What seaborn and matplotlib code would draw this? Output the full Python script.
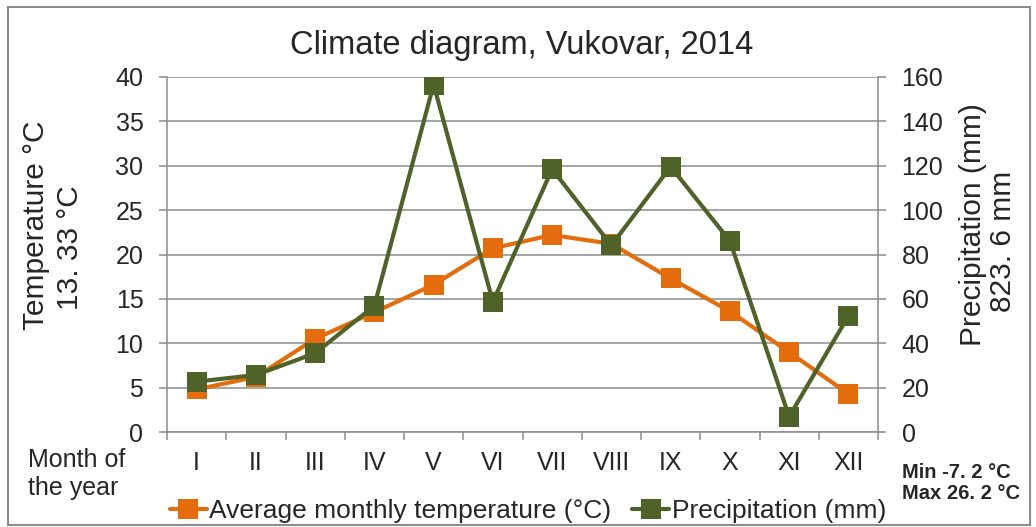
import numpy as np
import pandas as pd
import matplotlib
matplotlib.use("Agg")
import matplotlib.pyplot as plt
from matplotlib.lines import Line2D
from matplotlib.patches import Rectangle
import seaborn as sns

# Monthly climate data, Vukovar 2014
months = ["I", "II", "III", "IV", "V", "VI", "VII", "VIII", "IX", "X", "XI", "XII"]
temperature = [4.8, 6.2, 10.5, 13.5, 16.6, 20.7, 22.2, 21.2, 17.3, 13.6, 9.0, 4.3]
precipitation = [22.7, 25.7, 35.5, 56.9, 156.6, 58.7, 118.5, 84.1, 119.6, 86.1, 6.9, 52.3]
temp_ticks = [0, 5, 10, 15, 20, 25, 30, 35, 40]
prec_ticks = [0, 20, 40, 60, 80, 100, 120, 140, 160]

ORANGE = "#E46C0A"
GREEN = "#4F6228"
GRID = "#8C8C8C"

sns.set_theme(style="white")
plt.rcParams["font.family"] = ["Liberation Sans", "DejaVu Sans"]

df = pd.DataFrame({"pos": np.arange(len(months)), "month": months,
                   "temp": temperature, "prec": precipitation})

W, H = 1036, 527
fig = plt.figure(figsize=(W / 100, H / 100), dpi=100)
ax = fig.add_axes([167 / W, 1 - 432 / H, (878 - 167) / W, (432 - 77) / H])
ax2 = ax.twinx()

line_kw = dict(marker="s", markersize=14, linewidth=3.0, markeredgewidth=0)
sns.lineplot(data=df, x="pos", y="temp", ax=ax, color=ORANGE,
             markeredgecolor=ORANGE, **line_kw)
sns.lineplot(data=df, x="pos", y="prec", ax=ax2, color=GREEN,
             markeredgecolor=GREEN, **line_kw)

# Axes ranges and ticks
ax.set_xlim(-0.5, len(months) - 0.5)
ax.set_ylim(temp_ticks[0], temp_ticks[-1])
ax2.set_ylim(prec_ticks[0], prec_ticks[-1])
ax.set_yticks(temp_ticks)
ax2.set_yticks(prec_ticks)
ax.set_xticks(df["pos"])
ax.set_xticklabels(months)
ax.set_xticks(np.arange(-0.5, len(months)), minor=True)

ax.yaxis.grid(True, color=GRID, linewidth=1.1)
ax.set_axisbelow(True)

for a in (ax, ax2):
    a.set_xlabel("")
    a.set_ylabel("")
    for side in ("left", "right", "bottom", "top"):
        a.spines[side].set_color(GRID)
        a.spines[side].set_linewidth(1.1)
    a.spines["top"].set_visible(False)
ax.spines["right"].set_visible(False)
ax2.spines["left"].set_visible(False)
ax2.spines["bottom"].set_visible(False)

tick_fs = 18
label_fs = 21.5
ax.tick_params(axis="y", which="major", direction="out", length=6, width=1.1,
               color=GRID, pad=11, labelsize=tick_fs, left=True)
ax2.tick_params(axis="y", which="major", direction="out", length=6, width=1.1,
                color=GRID, pad=11, labelsize=tick_fs, right=True)
ax.tick_params(axis="x", which="major", length=0, pad=14, labelsize=tick_fs)
ax.tick_params(axis="x", which="minor", direction="out", length=6, width=1.1,
               color=GRID, bottom=True)

# Titles and axis captions
fig.text(522 / W, 1 - 45 / H, "Climate diagram, Vukovar, 2014",
         ha="center", va="center", fontsize=23.5)
fig.text(36 / W, 1 - 225 / H, "Temperature °C", rotation=90,
         ha="center", va="center", fontsize=label_fs)
fig.text(70 / W, 1 - 248 / H, "13. 33 °C", rotation=90,
         ha="center", va="center", fontsize=label_fs)
fig.text(973 / W, 1 - 225 / H, "Precipitation (mm)", rotation=90,
         ha="center", va="center", fontsize=label_fs)
fig.text(1003 / W, 1 - 241 / H, "823. 6 mm", rotation=90,
         ha="center", va="center", fontsize=label_fs)
fig.text(28 / W, 1 - 474 / H, "Month of\nthe year", ha="left", va="center",
         fontsize=tick_fs, linespacing=1.2)
fig.text(902 / W, 1 - 483 / H, "Min -7. 2 °C\nMax 26. 2 °C", ha="left",
         va="center", fontsize=14.5, fontweight="bold", linespacing=1.15)

# Legend below the plot
handles = [
    Line2D([], [], color=ORANGE, marker="s", markersize=14, linewidth=3.0,
           markeredgewidth=0),
    Line2D([], [], color=GREEN, marker="s", markersize=14, linewidth=3.0,
           markeredgewidth=0),
]
fig.legend(handles, ["Average monthly temperature (°C)", "Precipitation (mm)"],
           loc="center", bbox_to_anchor=(528 / W, 1 - 511 / H), ncol=2,
           frameon=False, fontsize=19, handlelength=1.4,
           handletextpad=0.1, columnspacing=0.8, borderpad=0)

# Chart-area frame
fig.patches.append(Rectangle((8 / W, 1 - 525 / H), (1030 - 8) / W, (525 - 7) / H,
                             transform=fig.transFigure, fill=False,
                             edgecolor=GRID, linewidth=1.5))

fig.savefig("out.png", dpi=100)
